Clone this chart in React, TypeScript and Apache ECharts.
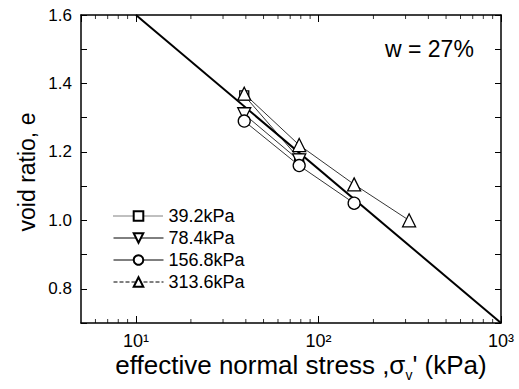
import React, { useEffect, useRef } from "react";
import * as echarts from "echarts";

const stressLevels = [39.2, 78.4, 156.8, 313.6];
const seriesNames = ["39.2kPa", "78.4kPa", "156.8kPa", "313.6kPa"];
const seriesSymbols = ["rect", "path://M0,0 L10,0 L5,9 Z", "circle", "triangle"];
const seriesSizes = [9, 13, 12, 13];
const e392 = [1.365, 1.18];
const e784 = [1.31, 1.175];
const e1568 = [1.29, 1.16, 1.05];
const e3136 = [1.37, 1.22, 1.105, 1.0];
const seriesValues = [e392, e784, e1568, e3136];
const legendLineTypes = ["dotted", "solid", "solid", "dashed"];
const refLineX = [10, 1000];
const refLineE = [1.6, 0.7];
const xMinorTicks = [6, 7, 8, 9, 20, 30, 40, 50, 60, 70, 80, 90, 200, 300, 400, 500, 600, 700, 800, 900];
const yTickLabels = ["0.8", "1.0", "1.2", "1.4", "1.6"];
const xTickLabels: Record<string, string> = { "1": "10¹", "2": "10²", "3": "10³" };

const FONT = "'Liberation Sans', Arial, sans-serif";

export default function App() {
  const ref = useRef<HTMLDivElement>(null);
  useEffect(() => {
    if (!ref.current) return;
    const chart = echarts.init(ref.current, undefined, { renderer: "svg" });
    const xCommon = {
      type: "log" as const,
      min: 5,
      max: 1000,
      logBase: 10,
      axisLine: { lineStyle: { color: "#000", width: 1.5 } },
      axisTick: { inside: true, length: 7, lineStyle: { color: "#000", width: 1 } },
      splitLine: { show: false },
    };
    const yCommon = {
      type: "value" as const,
      min: 0.7,
      max: 1.6,
      interval: 0.1,
      axisLine: { show: true, lineStyle: { color: "#000", width: 1.5 } },
      axisTick: { inside: true, length: 6, lineStyle: { color: "#000", width: 1 } },
      splitLine: { show: false },
    };
    const dataSeries = seriesNames.map((name, i) => ({
      name,
      type: "line",
      data: seriesValues[i].map((v, j) => [stressLevels[j], v]),
      symbol: seriesSymbols[i],
      symbolSize: seriesSizes[i],
      showAllSymbol: true,
      lineStyle: { color: "#000", width: 0.8 },
      itemStyle: { color: "#fff", borderColor: "#000", borderWidth: 1.3 },
      z: 3,
    }));
    chart.setOption({
      animation: false,
      backgroundColor: "#fff",
      grid: { left: 81, right: 18, top: 15, bottom: 66 },
      xAxis: [
        {
          ...xCommon,
          position: "bottom",
          axisLabel: {
            showMinLabel: false,
            margin: 9,
            color: "#000",
            fontSize: 18,
            fontFamily: FONT,
            formatter: (v: number) => xTickLabels[String(Math.round(Math.log10(v)))] || "",
          },
        },
        { ...xCommon, position: "top", axisLabel: { show: false } },
      ],
      yAxis: [
        {
          ...yCommon,
          position: "left",
          axisLabel: {
            color: "#000",
            fontSize: 17,
            fontFamily: FONT,
            margin: 9,
            formatter: (v: number) => {
              const s = v.toFixed(1);
              return yTickLabels.includes(s) ? s : "";
            },
          },
        },
        { ...yCommon, position: "right", axisLabel: { show: false } },
      ],
      legend: {
        orient: "vertical",
        left: 108,
        top: 202,
        itemWidth: 50,
        itemHeight: 12,
        itemGap: 4,
        textStyle: { fontSize: 18, fontFamily: FONT, color: "#000" },
        data: seriesNames.map((n, i) => ({ name: n, lineStyle: { type: legendLineTypes[i], width: 1 } })),
      },
      series: [
        ...dataSeries,
        {
          name: "ref",
          type: "line",
          data: refLineX.map((x, i) => [x, refLineE[i]]),
          symbol: "none",
          lineStyle: { color: "#000", width: 2 },
          z: 2,
        },
        {
          name: "minorBottom",
          type: "scatter",
          data: xMinorTicks.map((x) => [x, 0.7]),
          symbol: "rect",
          symbolSize: [1, 4],
          symbolOffset: [0, -2],
          itemStyle: { color: "#000" },
          silent: true,
          z: 1,
        },
        {
          name: "minorTop",
          type: "scatter",
          data: xMinorTicks.map((x) => [x, 1.6]),
          symbol: "rect",
          symbolSize: [1, 4],
          symbolOffset: [0, 2],
          itemStyle: { color: "#000" },
          silent: true,
          z: 1,
        },
      ],
      graphic: [
        {
          type: "text",
          x: 27,
          y: 172,
          rotation: Math.PI / 2,
          style: {
            text: "void ratio, e",
            fontSize: 23,
            fontFamily: FONT,
            fill: "#000",
            align: "center",
            verticalAlign: "middle",
          },
        },
        {
          type: "text",
          x: 301,
          y: 367,
          style: {
            text: "{n|effective normal stress ,σ}{sub|v}{n|' (kPa)}",
            align: "center",
            verticalAlign: "middle",
            rich: {
              n: { fontSize: 26, fontFamily: FONT, fill: "#000", verticalAlign: "top", lineHeight: 30 },
              sub: { fontSize: 14, fontFamily: FONT, fill: "#000", verticalAlign: "bottom", lineHeight: 30, padding: [10, 0, 0, 0] },
            },
          },
        },
        {
          type: "text",
          x: 385,
          y: 49,
          style: {
            text: "w = 27%",
            fontSize: 23,
            fontFamily: FONT,
            fill: "#000",
            align: "left",
            verticalAlign: "middle",
          },
        },
      ],
    });
    return () => chart.dispose();
  }, []);
  return <div ref={ref} style={{ width: 519, height: 389, position: "absolute", left: 0, top: 0 }} />;
}
